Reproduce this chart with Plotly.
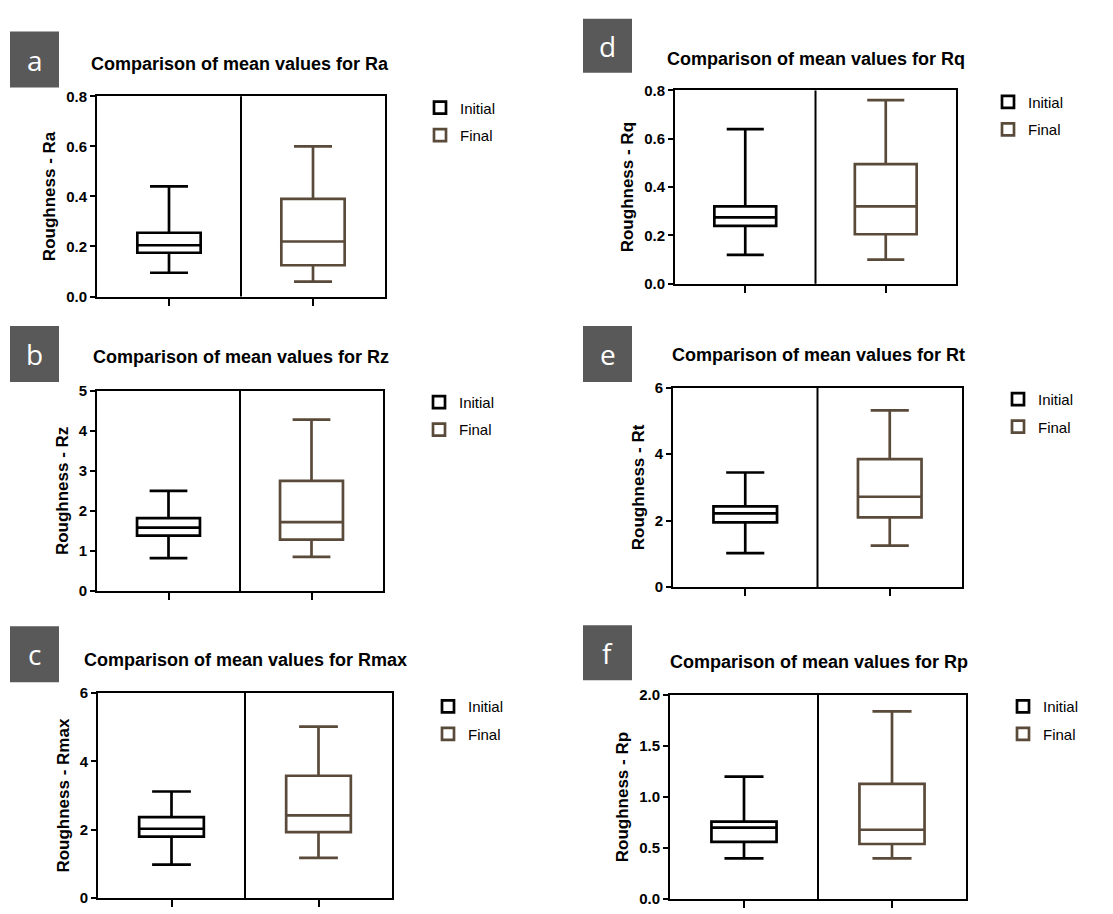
import plotly.graph_objects as go

W, H = 1113, 914
FONT = "Liberation Sans, Arial, sans-serif"

groups = ["Initial", "Final"]
group_colors = ["#000000", "#5a4a3a"]

panel_letters = ["a", "b", "c", "d", "e", "f"]
param_names = ["Ra", "Rz", "Rmax", "Rq", "Rt", "Rp"]

# five-number summaries: [min, Q1, median, Q3, max]
ra_initial = [0.095, 0.175, 0.205, 0.255, 0.44]
ra_final = [0.06, 0.125, 0.22, 0.39, 0.60]
rz_initial = [0.82, 1.38, 1.58, 1.82, 2.50]
rz_final = [0.85, 1.28, 1.72, 2.75, 4.28]
rmax_initial = [0.98, 1.80, 2.03, 2.37, 3.12]
rmax_final = [1.18, 1.93, 2.42, 3.58, 5.02]
rq_initial = [0.12, 0.24, 0.275, 0.32, 0.64]
rq_final = [0.10, 0.205, 0.32, 0.495, 0.76]
rt_initial = [1.02, 1.95, 2.22, 2.43, 3.45]
rt_final = [1.25, 2.10, 2.72, 3.85, 5.32]
rp_initial = [0.40, 0.56, 0.70, 0.76, 1.20]
rp_final = [0.40, 0.54, 0.68, 1.13, 1.84]

initial_stats = [ra_initial, rz_initial, rmax_initial, rq_initial, rt_initial, rp_initial]
final_stats = [ra_final, rz_final, rmax_final, rq_final, rt_final, rp_final]

# y-axis tick values per panel
ra_ticks = [0.0, 0.2, 0.4, 0.6, 0.8]
rz_ticks = [0, 1, 2, 3, 4, 5]
rmax_ticks = [0, 2, 4, 6]
rq_ticks = [0.0, 0.2, 0.4, 0.6, 0.8]
rt_ticks = [0, 2, 4, 6]
rp_ticks = [0.0, 0.5, 1.0, 1.5, 2.0]
tick_sets = [ra_ticks, rz_ticks, rmax_ticks, rq_ticks, rt_ticks, rp_ticks]
tick_formats = [".1f", "d", "d", ".1f", "d", ".1f"]

# layout (pixels): plot rect (x0, y0, x1, y1), title centre, label box, legend anchor
plot_rects = [(97, 89, 385, 293), (97, 389, 383, 593), (98, 697, 392, 906),
              (675, 83, 956, 280), (673, 386, 962, 589), (670, 699, 966, 907)]
title_pos = [(240, 56), (241, 355), (245, 663), (816, 51), (818, 353), (819, 665)]
label_boxes = [(10, 23, 59, 80), (10, 323, 59, 380), (10, 629, 59, 686),
               (583, 10, 632, 65), (583, 323, 632, 380), (583, 628, 632, 684)]
legend_pos = [(420, 84), (419, 384), (428, 694), (988, 78), (998, 381), (1003, 694)]

fig = go.Figure()
shapes = []
annotations = []
layout = {}

for i in range(6):
    n = "" if i == 0 else str(i + 1)
    xa, ya = "x" + n, "y" + n
    leg = "legend" + n
    stats_list = [initial_stats[i], final_stats[i]]
    for g, col, st in zip(groups, group_colors, stats_list):
        fig.add_trace(go.Box(
            x=[g], lowerfence=[st[0]], q1=[st[1]], median=[st[2]],
            q3=[st[3]], upperfence=[st[4]],
            name=g, legendgroup=g, legend=leg,
            xaxis=xa, yaxis=ya,
            line=dict(color=col, width=2.7), fillcolor="rgba(255,255,255,0)",
            width=0.44, whiskerwidth=0.6, boxpoints=False,
            hoverinfo="skip",
        ))
    x0, y0, x1, y1 = plot_rects[i]
    ticks = tick_sets[i]
    layout["xaxis" + n] = dict(
        domain=[x0 / W, x1 / W], anchor=ya, type="category",
        categoryorder="array", categoryarray=groups, range=[-0.5, 1.5],
        showticklabels=False, ticks="outside", ticklen=7, tickwidth=2,
        tickcolor="black", showline=True, linewidth=2, linecolor="black",
        mirror=True, showgrid=False, zeroline=False, fixedrange=True,
    )
    layout["yaxis" + n] = dict(
        domain=[1 - y1 / H, 1 - y0 / H], anchor=xa,
        range=[ticks[0], ticks[-1]], tickvals=ticks, tickformat=tick_formats[i],
        ticks="outside", ticklen=5, tickwidth=2, tickcolor="black",
        showline=True, linewidth=2, linecolor="black", mirror=True,
        showgrid=False, zeroline=False, fixedrange=True,
        tickfont=dict(family=FONT, size=15, color="black", weight="bold"),
        title=dict(text="Roughness - " + param_names[i], standoff=6,
                   font=dict(family=FONT, size=17, color="black", weight="bold")),
    )
    # divider between the two groups
    shapes.append(dict(type="line", xref=xa, yref=ya + " domain",
                       x0=0.5, x1=0.5, y0=0, y1=1,
                       line=dict(color="black", width=2)))
    # panel letter box
    bx0, by0, bx1, by1 = label_boxes[i]
    shapes.append(dict(type="rect", xref="paper", yref="paper",
                       x0=bx0 / W, x1=bx1 / W, y0=1 - by1 / H, y1=1 - by0 / H,
                       fillcolor="#595959", line=dict(width=0), layer="above"))
    annotations.append(dict(text=panel_letters[i], xref="paper", yref="paper",
                            x=(bx0 + bx1) / 2 / W, y=1 - (by0 + by1) / 2 / H,
                            xanchor="center", yanchor="middle", showarrow=False,
                            font=dict(family="Open Sans, sans-serif", size=28,
                                      color="white")))
    tx, ty = title_pos[i]
    annotations.append(dict(text="Comparison of mean values for " + param_names[i],
                            xref="paper", yref="paper", x=tx / W, y=1 - ty / H,
                            xanchor="center", yanchor="middle", showarrow=False,
                            font=dict(family=FONT, size=18, color="black",
                                      weight="bold")))
    lx, ly = legend_pos[i]
    layout[leg] = dict(x=lx / W, y=1 - ly / H, xanchor="left", yanchor="top",
                       xref="paper", yref="paper", bgcolor="rgba(0,0,0,0)",
                       font=dict(family=FONT, size=15, color="black"),
                       tracegroupgap=5, itemclick=False, itemdoubleclick=False)

fig.update_layout(
    width=W, height=H, margin=dict(l=0, r=0, t=0, b=0),
    paper_bgcolor="white", plot_bgcolor="white",
    showlegend=True, boxmode="overlay",
    shapes=shapes, annotations=annotations, **layout,
)

fig.write_html("out.html")
